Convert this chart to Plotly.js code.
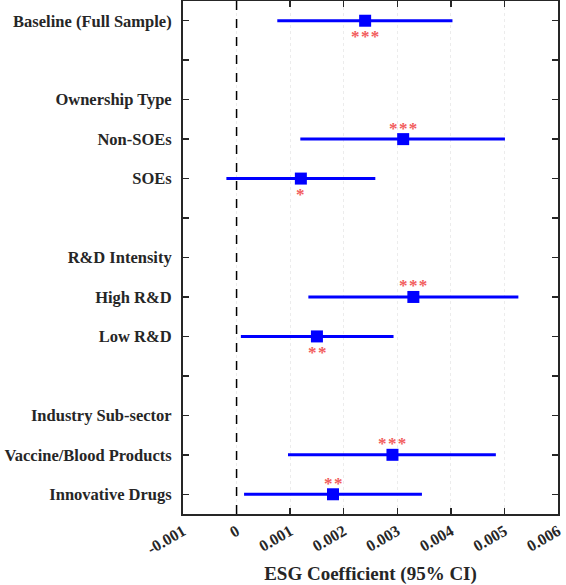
<!DOCTYPE html>
<html>
<head>
<meta charset="utf-8">
<script src="https://cdn.plot.ly/plotly-3.0.1.min.js"></script>
<style>
  html, body { margin: 0; padding: 0; background: #fff; }
  #chart { width: 566px; height: 585px; }
</style>
</head>
<body>
<div id="chart"></div>
<script>
// Row labels from top to bottom (empty strings are spacer rows)
const rowLabels = [
  'Baseline (Full Sample)', '', 'Ownership Type', 'Non-SOEs', 'SOEs', '',
  'R&D Intensity', 'High R&D', 'Low R&D', '',
  'Industry Sub-sector', 'Vaccine/Blood Products', 'Innovative Drugs'
];

// Estimated rows: label, point estimate and 95% CI bounds
const estLabels = ['Baseline (Full Sample)', 'Non-SOEs', 'SOEs', 'High R&D', 'Low R&D', 'Vaccine/Blood Products', 'Innovative Drugs'];
const estimates = [0.00240, 0.00311, 0.00120, 0.00330, 0.00150, 0.00291, 0.00180];
const ciLower   = [0.00076, 0.00119, -0.00019, 0.00134, 0.00008, 0.00096, 0.00014];
const ciUpper   = [0.00403, 0.00501, 0.00259, 0.00526, 0.00293, 0.00484, 0.00346];
const stars     = ['***', '***', '*', '***', '**', '***', '**'];
const starSide  = ['below', 'above', 'below', 'above', 'below', 'above', 'above'];

const xTicks = [-0.001, 0, 0.001, 0.002, 0.003, 0.004, 0.005, 0.006];

const rowPos = rowLabels.map((_, i) => i + 1);
const estPos = estLabels.map(l => rowLabels.indexOf(l) + 1);

const serif = '"Liberation Serif", "Times New Roman", serif';
const ink = '#262626';

const trace = {
  type: 'scatter',
  mode: 'markers',
  x: estimates,
  y: estPos,
  marker: { symbol: 'square', size: 12, color: '#0000ff' },
  error_x: {
    type: 'data',
    symmetric: false,
    array: estimates.map((e, i) => ciUpper[i] - e),
    arrayminus: estimates.map((e, i) => e - ciLower[i]),
    width: 0,
    thickness: 3,
    color: '#0000ff'
  },
  hoverinfo: 'skip',
  showlegend: false
};

// Significance stars placed just above or below each estimate
const starNotes = estimates.map((e, i) => ({
  x: e, y: estPos[i], xref: 'x', yref: 'y',
  text: '<b>' + stars[i].split('').join('\u200A') + '</b>', showarrow: false,
  yshift: starSide[i] === 'above' ? 11 : -16,
  font: { family: serif, size: 17, color: '#f25c5c' }
}));

const layout = {
  width: 566, height: 585,
  margin: { l: 183, r: 8, t: 1, b: 71 },
  paper_bgcolor: '#fff', plot_bgcolor: '#fff',
  font: { family: serif, color: ink },
  xaxis: {
    range: [-0.001, 0.006],
    tickvals: xTicks,
    ticktext: xTicks.map(v => '<b>' + String(v) + '</b>'),
    tickangle: -30,
    ticks: 'inside', ticklen: 6, tickwidth: 1.5, tickcolor: ink,
    showline: true, linewidth: 2, linecolor: ink, mirror: 'ticks',
    showgrid: true, gridcolor: '#ececec', griddash: 'dot', gridwidth: 1,
    zeroline: false,
    tickfont: { family: serif, size: 16, color: ink },
    title: { text: '<b>ESG Coefficient (95% CI)</b>', font: { family: serif, size: 19, color: ink }, standoff: 14 }
  },
  yaxis: {
    range: [13.5, 0.5],
    tickvals: rowPos,
    ticktext: rowLabels.map(t => t ? '<b>' + t + '</b>' : ''),
    ticks: 'inside', ticklen: 6, tickwidth: 1.5, tickcolor: ink,
    showline: true, linewidth: 2, linecolor: ink, mirror: 'ticks',
    showgrid: false, zeroline: false,
    ticklabelstandoff: 6,
    tickfont: { family: serif, size: 16.5, color: ink }
  },
  shapes: [{
    type: 'line', xref: 'x', yref: 'paper',
    x0: 0, x1: 0, y0: 0, y1: 1,
    line: { color: '#000', width: 1.5, dash: 'dash' }
  }],
  annotations: starNotes
};

Plotly.newPlot('chart', [trace], layout, { staticPlot: true, displayModeBar: false });
</script>
</body>
</html>
